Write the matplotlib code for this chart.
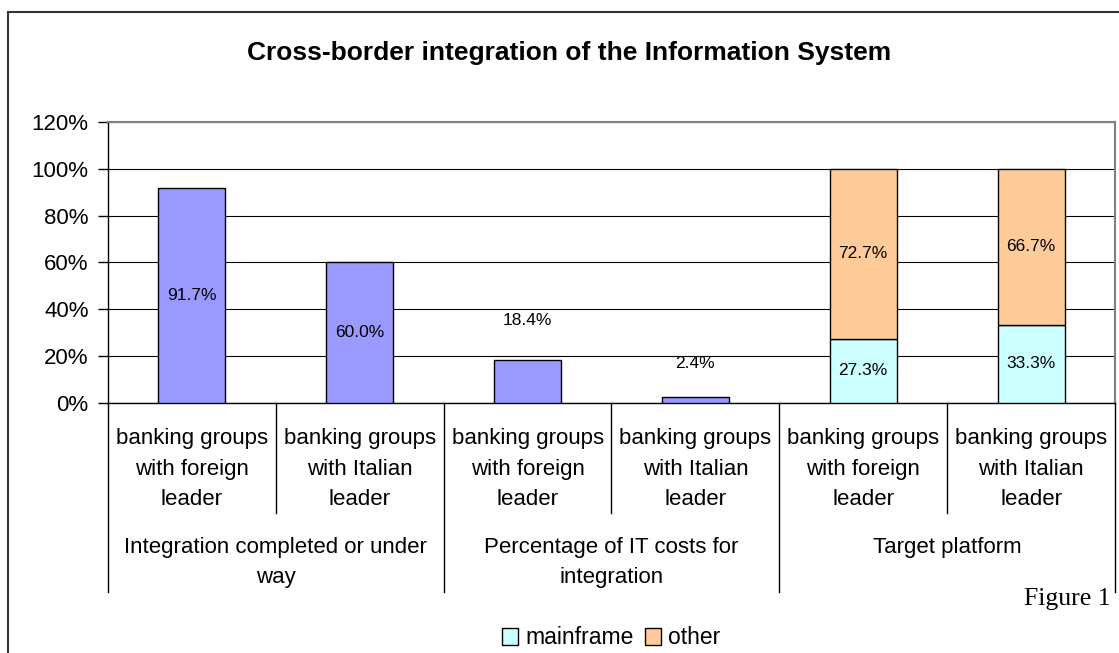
import matplotlib
matplotlib.use("Agg")
import matplotlib.pyplot as plt
from matplotlib.patches import Rectangle, Patch
from matplotlib.transforms import blended_transform_factory, offset_copy

plt.rcParams['font.family'] = ['Liberation Sans', 'DejaVu Sans']

title = "Cross-border integration of the Information System"
sub_labels = ["banking groups\nwith foreign\nleader",
              "banking groups\nwith Italian\nleader"] * 3
group_labels = ["Integration completed or under\nway",
                "Percentage of IT costs for\nintegration",
                "Target platform"]
single_values = [91.7, 60.0, 18.4, 2.4]     # integration / IT cost shares
mainframe = [27.3, 33.3]                     # target platform: mainframe
other = [72.7, 66.7]                         # target platform: other
yticks = [0, 20, 40, 60, 80, 100, 120]
series_names = ["mainframe", "other"]

W, H = 1119, 653
fig = plt.figure(figsize=(W / 100, H / 100), dpi=100)
ax_top, ax_bot, ax_l, ax_r = 122, 402.7, 108, 1115
ax = fig.add_axes([ax_l / W, 1 - ax_bot / H, (ax_r - ax_l) / W, (ax_bot - ax_top) / H])
ax_h = ax_bot - ax_top

c_single, c_main, c_other = "#9999FF", "#CCFFFF", "#FFCC99"
bw = 0.4
n = len(sub_labels)
xs = list(range(n))
x_single = xs[:len(single_values)]
x_stack = xs[len(single_values):]

ax.bar(x_single, single_values, width=bw, color=c_single, edgecolor="black", lw=1, zorder=3)
ax.bar(x_stack, mainframe, width=bw, color=c_main, edgecolor="black", lw=1, zorder=3)
ax.bar(x_stack, other, width=bw, bottom=mainframe, color=c_other, edgecolor="black", lw=1, zorder=3)

lab_fs = 12.5
# value labels: inside the bar for tall bars, above it for the short ones
above_offsets = {2: 28, 3: 24}  # points above the bar top
for i, v in zip(x_single, single_values):
    if i in above_offsets:
        tr = offset_copy(ax.transData, fig=fig, x=0, y=above_offsets[i], units="points")
        ax.text(i, v, f"{v:.1f}%", transform=tr, ha="center", va="center", fontsize=lab_fs, zorder=4)
    else:
        ax.text(i, v / 2, f"{v:.1f}%", ha="center", va="center", fontsize=lab_fs, zorder=4)
for i, m, o in zip(x_stack, mainframe, other):
    ax.text(i, m / 2, f"{m:.1f}%", ha="center", va="center", fontsize=lab_fs, zorder=4)
    ax.text(i, m + o / 2, f"{o:.1f}%", ha="center", va="center", fontsize=lab_fs, zorder=4)

ax.set_xlim(-0.5, n - 0.5)
ax.set_ylim(0, 120)
ax.set_yticks(yticks)
ax.set_yticklabels([f"{v}%" for v in yticks], fontsize=16)
ax.tick_params(axis="y", length=7, width=1, pad=7, color="black")
ax.set_xticks([])
ax.yaxis.grid(True, color="black", lw=0.8)
ax.set_axisbelow(True)
for s in ("left", "bottom"):
    ax.spines[s].set_color("black")
    ax.spines[s].set_linewidth(1)
for s in ("top", "right"):
    ax.spines[s].set_color("#808080")
    ax.spines[s].set_linewidth(1.5)

# multi-level category axis
bt = blended_transform_factory(ax.transData, ax.transAxes)
def ay(px):
    return (ax_bot - px) / ax_h

short_end, long_end = ay(513), ay(592)
for k in range(n + 1):
    xb = k - 0.5
    end = long_end if k % 2 == 0 else short_end
    ax.plot([xb, xb], [0, end], color="black", lw=1, transform=bt, clip_on=False)

for i, lab in zip(xs, sub_labels):
    ax.text(i, ay(428), lab, transform=bt, ha="center", va="top",
            fontsize=16, linespacing=1.6)
for g, lab in enumerate(group_labels):
    ax.text(2 * g + 0.5, ay(537), lab, transform=bt, ha="center", va="top",
            fontsize=16, linespacing=1.55)

fig.text(569 / W, 1 - 53 / H, title, ha="center", va="center", fontsize=19, fontweight="bold")
fig.text(1111 / W, 1 - 599 / H, "Figure 1", ha="right", va="center", fontsize=18.5,
         family=["Liberation Serif", "DejaVu Serif"])

handles = [Patch(facecolor=c_main, edgecolor="black", lw=1),
           Patch(facecolor=c_other, edgecolor="black", lw=1)]
fig.legend(handles, series_names, loc="center", bbox_to_anchor=(611 / W, 1 - 638 / H),
           ncol=2, frameon=False, fontsize=16.5, handlelength=0.7, handleheight=0.7,
           handletextpad=0.3, columnspacing=0.5, borderpad=0)

fig.add_artist(Rectangle((8 / W, -0.1), 2, (1 - 12 / H) + 0.1, transform=fig.transFigure,
                         fill=False, edgecolor="#333333", lw=1.5))

fig.savefig("out.png", dpi=100, facecolor="white")
